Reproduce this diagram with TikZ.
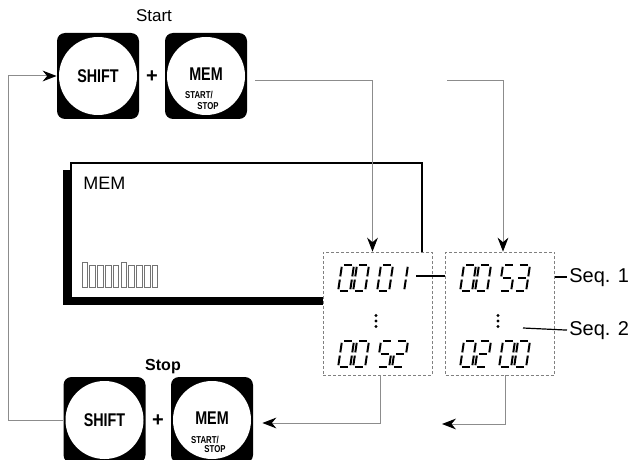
\documentclass[tikz,border=0pt]{standalone}
\usepackage{fontspec}
\setmainfont{Liberation Sans}
\newfontfamily\keyfont{Liberation Sans Bold}
\usetikzlibrary{arrows.meta, positioning, shadows}
\newcommand{\narrow}[1]{\scalebox{0.78}[1]{#1}}
\tikzset{
  keycap/.style={rectangle, rounded corners=4pt, fill=black,
                 minimum width=41pt, minimum height=43pt, inner sep=0pt},
  keyface/.style={circle, fill=white, minimum size=39pt, inner sep=0pt},
  keytext/.style={font=\keyfont\fontsize{9.2}{9}\selectfont, inner sep=0pt},
  keysmall/.style={font=\keyfont\fontsize{5}{5}\selectfont, inner sep=0pt},
  plustext/.style={font=\bfseries\fontsize{10}{10}\selectfont, inner sep=0pt},
  steptext/.style={font=\fontsize{8.5}{9}\selectfont, inner sep=0pt},
  seqlabel/.style={font=\fontsize{10}{10}\selectfont, inner sep=0pt},
  lcdpanel/.style={rectangle, draw=black, line width=0.6pt, fill=white,
                   minimum width=175.5pt, minimum height=67.5pt,
                   drop shadow={shadow xshift=-4pt, shadow yshift=-3.5pt,
                                fill=black, opacity=1}},
  lcdtext/.style={font=\fontsize{9}{9}\selectfont, inner sep=0pt},
  lcdbar/.style={draw=black!55, line width=0.4pt},
  lcdseg/.style={draw=black, line width=1pt, line cap=butt},
  seqbox/.style={rectangle, draw=black!50, dash pattern=on 1.5pt off 1pt,
                 line width=0.35pt, fill=white, minimum width=54.5pt,
                 minimum height=61.5pt, inner sep=0pt},
  flowline/.style={draw=black!45, line width=0.5pt},
  flowarrow/.style={flowline, -{Stealth[length=7pt, width=5.4pt, color=black]}},
  seqline/.style={draw=black, line width=0.6pt}
}
% seven segment digits, local units in px
\newcommand{\sega}{\draw[lcdseg] (1.8,0) -- (10.2,0);}
\newcommand{\segb}{\draw[lcdseg] (12,1.8) -- (12,11.4);}
\newcommand{\segc}{\draw[lcdseg] (12,14.6) -- (12,24.2);}
\newcommand{\segd}{\draw[lcdseg] (1.8,26) -- (10.2,26);}
\newcommand{\sege}{\draw[lcdseg] (0,14.6) -- (0,24.2);}
\newcommand{\segf}{\draw[lcdseg] (0,1.8) -- (0,11.4);}
\newcommand{\segg}{\draw[lcdseg] (1.8,13) -- (10.2,13);}
\newcommand{\lcddigit}[3]{%
  \begin{scope}[shift={(#1,#2)}, xslant=0.15]
    \ifcase#3 \sega\segb\segc\segd\sege\segf
    \or \segb\segc
    \or \sega\segb\segg\sege\segd
    \or \sega\segb\segg\segc\segd
    \or
    \or \sega\segf\segg\segc\segd
    \fi
  \end{scope}}
\newcommand{\lcdnumber}[6]{%
  \begin{scope}[shift={(#1,#2)}]
    \lcddigit{0}{0}{#3}\lcddigit{15}{0}{#4}
    \lcddigit{39}{0}{#5}\lcddigit{54}{0}{#6}
  \end{scope}}

\begin{document}
\begin{tikzpicture}[x=0.5pt, y=-0.5pt]
  \useasboundingbox (0,0) rectangle (632,460);

  % Start keys
  \node[steptext] (startlbl) at (154,16) {Start};
  \node[keycap] (shiftT) at (98,76) {};
  \node[keyface] (shiftTface) at (shiftT) {};
  \node[keytext] (shiftTtext) at (shiftT) {\narrow{SHIFT}};
  \node[plustext] (plusT) at (152,77) {+};
  \node[keycap] (memT) at (206,76) {};
  \node[keyface] (memTface) at (memT) {};
  \node[keytext] (memTtext) at ([yshift=1pt]memT.center) {\narrow{MEM}};
  \node[keysmall] (memTsa) at ([shift={(-7,19)}]memT.center) {\narrow{START/}};
  \node[keysmall] (memTsb) at ([shift={(2,30)}]memT.center) {\narrow{STOP}};

  % LCD panel
  \node[lcdpanel] (lcd) at (246.5,230.5) {};
  \node[lcdtext, anchor=base west] (lcdmem) at (83,190) {MEM};
  \foreach \i in {0,...,9} {
    \pgfmathsetmacro\bartop{(\i==0 || \i==5) ? 262 : 265}
    \draw[lcdbar] (82+7.8*\i,\bartop) rectangle (87.6+7.8*\i,287);
  }

  % Sequence boxes
  \node[seqbox] (box1) at (377.5,313.5) {};
  \node[seqbox] (box2) at (500,313.5) {};
  \lcdnumber{342}{265}{0}{0}{0}{1}
  \lcdnumber{342}{341}{0}{0}{5}{2}
  \lcdnumber{464}{265}{0}{0}{5}{3}
  \lcdnumber{464}{341}{0}{2}{0}{0}
  \foreach \yy in {315.5,321,326.5} {
    \fill (376,\yy) circle (0.85pt);
    \fill (498,\yy) circle (0.85pt);
  }

  % Seq labels
  \node[seqlabel, anchor=base west] (seqA) at (569,282) {Seq. 1};
  \node[seqlabel, anchor=base west] (seqB) at (569,335) {Seq. 2};
  \coordinate (dashA) at (416,276);
  \coordinate (dashB) at (523,328);
  \draw[seqline] (dashA) -- (dashA -| box2.west);
  \draw[seqline] (box2.east |- seqA.west) -- ([xshift=-1pt]seqA.west);
  \draw[seqline] (dashB) -- ([xshift=-1pt]seqB.west);

  % Stop keys
  \node[steptext, font=\bfseries\fontsize{8}{8}\selectfont] (stoplbl) at (163,367) {Stop};
  \node[keycap] (shiftB) at (104.5,420) {};
  \node[keyface] (shiftBface) at (shiftB) {};
  \node[keytext] (shiftBtext) at (shiftB) {\narrow{SHIFT}};
  \node[plustext] (plusB) at (158,421) {+};
  \node[keycap] (memB) at (212,420) {};
  \node[keyface] (memBface) at (memB) {};
  \node[keytext] (memBtext) at ([yshift=1pt]memB.center) {\narrow{MEM}};
  \node[keysmall] (memBsa) at ([shift={(-7,20)}]memB.center) {\narrow{START/}};
  \node[keysmall] (memBsb) at ([shift={(3,29)}]memB.center) {\narrow{STOP}};

  % Flow
  \coordinate (feedB) at (447,81);
  \coordinate (feedC) at (442,424);
  \draw[flowarrow] (shiftB.west) -- ++(-55,0) |- (shiftT.west);
  \draw[flowarrow] ([shift={(8,5)}]memT.east) -| ([xshift=-2.5pt]box1.north);
  \draw[flowarrow] (feedB) -| ([xshift=1.5pt]box2.north);
  \draw[flowarrow] ([xshift=1.25pt]box1.south) |- ([shift={(9,3)}]memB.east);
  \draw[flowarrow] ([xshift=2.5pt]box2.south) |- (feedC);
\end{tikzpicture}
\end{document}
